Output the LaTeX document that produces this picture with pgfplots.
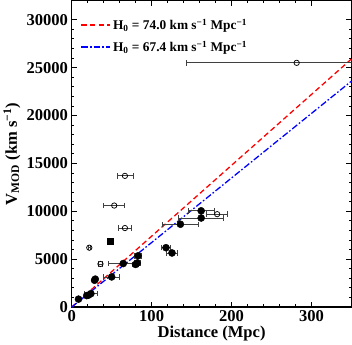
\documentclass[border=0pt]{standalone}
\usepackage{pgfplots}
\pgfplotsset{compat=1.18}
\usepackage{fontspec}
\setmainfont{Liberation Serif}

% filled points: D, V, error in D
\pgfplotstableread{
x y ex
8.5 830 0
18.8 1200 2
21 1250 2
24 1400 8
28.6 2800 0
29.5 2920 0
50 3150 10
64.5 4550 19
80 4450 4
82 4600 4
83 5350 4
118 6200 6
125.5 5650 7
136 8650 23
162 10050 16
162 9300 28
}\filled
\pgfplotstableread{
x y ex
66.6 13700 10
53.2 10600 13
66.6 8250 8
22 6200 1.5
36 4500 2.5
182 9700 13
}\opened

\begin{document}
\begin{tikzpicture}
\begin{axis}[
  scale only axis,
  width=261bp, height=286bp,
  xmin=0, xmax=350, ymin=0, ymax=32000,
  xtick={0,100,200,300}, minor x tick num=4,
  ytick={0,5000,10000,15000,20000,25000,30000}, minor y tick num=4,
  tick align=inside,
  xtick pos=both, ytick pos=both,
  major tick length=5bp, minor tick length=2.5bp,
  every tick/.style={black, line width=0.8pt},
  axis line style={line width=1.1pt},
  scaled y ticks=false,
  /pgf/number format/1000 sep={},
  /pgf/number format/assume math mode=true,
  tick label style={font=\fontsize{15.5}{15.5}\selectfont\bfseries},
  xlabel={Distance (Mpc)},
  ylabel={V\textsubscript{MOD} (km s\textsuperscript{−1})},
  label style={font=\fontsize{15.5}{15.5}\selectfont\bfseries},
  xlabel style={yshift=3bp},
  ylabel style={yshift=-1bp},
  legend style={draw=none, fill=none, at={(0.02,0.955)}, anchor=north west,
    font=\fontsize{12.5}{13}\selectfont\bfseries, row sep=5bp},
  legend cell align=left,
  legend image code/.code={\draw[#1, line width=1.2pt] (0bp,0bp) -- (27bp,0bp);},
  error bars/error bar style={black!75, line width=0.7pt},
  error bars/error mark options={rotate=90, mark size=2.5bp, line width=0.7pt, black!75},
]
\addplot[red, line width=1.2pt, dash pattern=on 5bp off 3bp] coordinates {(0,0) (350,25900)};
\addlegendentry{H\textsubscript{0} = 74.0 km s\textsuperscript{−1} Mpc\textsuperscript{−1}}
\addplot[blue, line width=1.2pt, dash pattern=on 6bp off 2bp on 1.5bp off 2bp] coordinates {(0,0) (350,23590)};
\addlegendentry{H\textsubscript{0} = 67.4 km s\textsuperscript{−1} Mpc\textsuperscript{−1}}

\addplot[only marks, mark=*, mark size=3.3bp, black,
  error bars/.cd, x dir=both, x explicit] table[x=x, y=y, x error=ex] {\filled};
\addplot[only marks, mark=o, mark size=2.5bp, black, mark options={line width=0.7pt},
  error bars/.cd, x dir=both, x explicit] table[x=x, y=y, x error=ex] {\opened};
\addplot[only marks, mark=o, mark size=2.5bp, black, mark options={line width=0.7pt},
  error bars/.cd, x dir=both, x explicit] table[x=x, y=y, x error minus=em, x error plus=ep] {
x y em ep
281.5 25500 138 69
};
\addplot[only marks, mark=square*, mark size=2.8bp, black] coordinates {(48.5, 6850)};
\end{axis}
\end{tikzpicture}
\end{document}
